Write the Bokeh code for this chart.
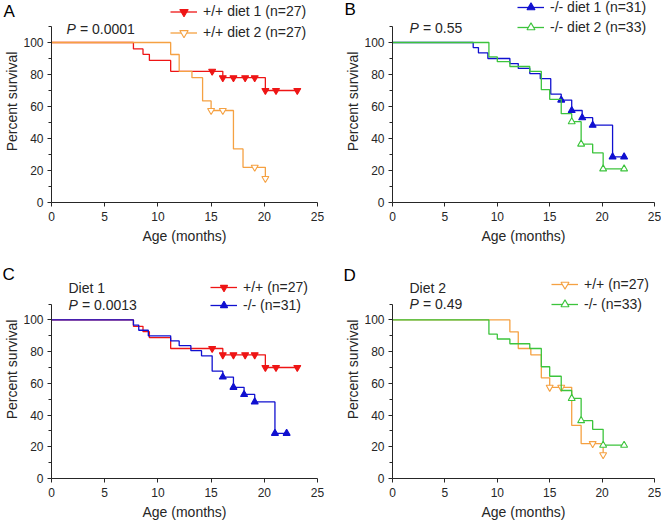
from bokeh.plotting import figure
from bokeh.layouts import gridplot
from bokeh.models import Range1d, FixedTicker, Label, Legend, LegendItem
from bokeh.embed import file_html
from bokeh.resources import INLINE

# ---- data ----
# +/+ diet 1
wt_d1_t = [0, 7.7, 8.6, 9.2, 11.2, 16.1, 20.1, 23.1]
wt_d1_s = [100, 96.0, 92.6, 88.8, 82.0, 78.0, 70.0, 70.0]
wt_d1_ct = [15.1, 16.1, 17.1, 18.2, 19.1, 20.1, 21.1, 23.1]
wt_d1_cs = [82.0, 78.0, 78.0, 78.0, 78.0, 70.0, 70.0, 70.0]
# +/+ diet 2
wt_d2_t = [0, 11.2, 12.0, 13.2, 14.2, 15.0, 17.1, 18.0, 20.1]
wt_d2_s = [100, 92.5, 82.0, 78.0, 63.5, 57.5, 33.5, 22.0, 15.0]
wt_d2_ct = [15.0, 16.1, 19.1, 20.1]
wt_d2_cs = [57.5, 57.5, 22.0, 15.0]
# -/- diet 1
ko_d1_t = [0, 7.7, 8.2, 9.1, 11.2, 12.0, 13.1, 14.1, 15.1, 16.1, 17.1, 18.1, 19.1, 21.0, 22.1]
ko_d1_s = [100, 96.8, 93.5, 90.0, 86.8, 83.8, 80.6, 77.4, 67.7, 64.0, 57.5, 53.0, 48.3, 28.5, 28.5]
ko_d1_ct = [16.1, 17.1, 18.1, 19.1, 21.0, 22.1]
ko_d1_cs = [64.0, 57.5, 53.0, 48.3, 28.5, 28.5]
# -/- diet 2
ko_d2_t = [0, 9.2, 10.0, 11.2, 13.1, 14.2, 15.0, 16.1, 17.1, 18.0, 19.1, 20.1, 22.1]
ko_d2_s = [100, 91.0, 88.0, 85.0, 82.0, 70.5, 64.5, 55.5, 50.5, 36.5, 31.0, 21.0, 21.0]
ko_d2_ct = [17.1, 18.0, 20.1, 22.1]
ko_d2_cs = [50.5, 36.5, 21.0, 21.0]

x_ticks = [0, 5, 10, 15, 20, 25]
y_ticks = [0, 20, 40, 60, 80, 100]
y_minor = [10, 30, 50, 70, 90, 110]
Y_MAX = 110

FONT = "Liberation Sans"
TXT = "#262626"

RED = "#ee1515"
ORANGE = "#f5a142"
BLUE = "#1010d0"
GREEN = "#3cc43c"

series = {
    "wt1": (wt_d1_t, wt_d1_s, wt_d1_ct, wt_d1_cs, RED, "inverted_triangle", RED),
    "wt2": (wt_d2_t, wt_d2_s, wt_d2_ct, wt_d2_cs, ORANGE, "inverted_triangle", "white"),
    "ko1": (ko_d1_t, ko_d1_s, ko_d1_ct, ko_d1_cs, BLUE, "triangle", BLUE),
    "ko2": (ko_d2_t, ko_d2_s, ko_d2_ct, ko_d2_cs, GREEN, "triangle", "white"),
}

AXIS_PX = 176  # pixel height of the 0..110 axis


def panel(letter, keys, labels, notes, p_text, w, h, bl, br, bt, bb,
          letter_side, letter_x, letter_dy, leg_x, leg_d, row_h, note_x, p_dy):
    T = AXIS_PX  # screen y (from frame bottom) of the axis top
    y_top = Y_MAX * (AXIS_PX + bt) / AXIS_PX
    p = figure(width=w, height=h, x_range=Range1d(0, 25), y_range=Range1d(0, y_top),
               output_backend="svg", toolbar_location=None,
               min_border_left=bl, min_border_right=br, min_border_top=0,
               min_border_bottom=bb)
    p.outline_line_color = None
    p.xgrid.visible = False
    p.ygrid.visible = False
    p.background_fill_color = "white"

    items = []
    for k, lab in zip(keys, labels):
        t, s, ct, cs, col, mk, fill = series[k]
        r1 = p.step(t, s, mode="after", line_color=col, line_width=1.3)
        r2 = p.scatter(ct, cs, marker=mk, size=7, line_color=col, fill_color=fill,
                       line_width=1.1)
        items.append(LegendItem(label=lab, renderers=[r1, r2]))

    for ax in (p.xaxis[0], p.yaxis[0]):
        ax.axis_line_color = TXT
        ax.major_tick_line_color = TXT
        ax.minor_tick_line_color = TXT
        ax.major_tick_in = 0
        ax.minor_tick_in = 0
        ax.major_tick_out = 4
        ax.minor_tick_out = 3
        ax.major_label_text_font = FONT
        ax.major_label_text_font_size = "12px"
        ax.major_label_text_color = TXT
        ax.axis_label_text_font = FONT
        ax.axis_label_text_font_size = "14px"
        ax.axis_label_text_font_style = "normal"
        ax.axis_label_text_color = TXT
    p.xaxis.ticker = FixedTicker(ticks=x_ticks, minor_ticks=[])
    p.yaxis.ticker = FixedTicker(ticks=y_ticks, minor_ticks=y_minor)
    p.yaxis.bounds = (0, Y_MAX)
    p.xaxis.axis_label = "Age (months)"
    p.yaxis.axis_label = "Percent survival"
    p.xaxis.major_label_standoff = 5
    p.xaxis.axis_label_standoff = 4
    p.yaxis.major_label_standoff = 4
    p.yaxis.axis_label_standoff = 0

    leg = Legend(items=items, location=(leg_x, T - 2 * row_h + row_h / 2 + leg_d),
                 glyph_width=27, glyph_height=row_h, label_height=row_h,
                 spacing=0, padding=0, margin=0, label_standoff=6,
                 background_fill_alpha=0, border_line_alpha=0,
                 label_text_font=FONT, label_text_font_size="14px",
                 label_text_color=TXT)
    p.add_layout(leg)

    # panel letter lives in a side panel (outside the frame, not clipped)
    p.add_layout(Label(x=letter_x, y=T + letter_dy, x_units="screen", y_units="screen",
                       text=letter, text_font=FONT, text_font_size="17px",
                       text_color="black", text_baseline="middle", text_align="left"),
                 letter_side)
    if notes:
        p.add_layout(Label(x=note_x, y=T + 15, x_units="screen", y_units="screen",
                           text=notes, text_font=FONT, text_font_size="14px",
                           text_color=TXT, text_baseline="middle", text_align="left"))
    p.add_layout(Label(x=note_x, y=T - p_dy, x_units="screen", y_units="screen",
                       text="P", text_font=FONT, text_font_size="14px",
                       text_font_style="italic",
                       text_color=TXT, text_baseline="middle", text_align="left"))
    p.add_layout(Label(x=note_x + 13.5, y=T - p_dy, x_units="screen", y_units="screen",
                       text="= " + p_text, text_font=FONT, text_font_size="14px",
                       text_color=TXT, text_baseline="middle", text_align="left"))
    return p


pA = panel("A", ["wt1", "wt2"], ["+/+ diet 1 (n=27)", "+/+ diet 2 (n=27)"], None, "0.0001",
           330, 260, 51, 13, 26, 58, "right", -314, 15, 119, 15, 21, 15, 2)
pB = panel("B", ["ko1", "ko2"], ["-/- diet 1 (n=31)", "-/- diet 2 (n=33)"], None, "0.55",
           331, 260, 59, 7, 26, 58, "left", 13, 17, 125, 19, 20, 17, 1)
pC = panel("C", ["wt1", "ko1"], ["+/+ (n=27)", "-/- (n=31)"], "Diet 1", "0.0013",
           330, 262, 51, 13, 44, 42, "right", -315, 28, 159, 15, 18, 17, 2)
pD = panel("D", ["wt2", "ko2"], ["+/+ (n=27)", "-/- (n=33)"], "Diet 2", "0.49",
           331, 262, 59, 7, 44, 42, "left", 13, 27, 159, 18, 20, 17, 1)

grid = gridplot([[pA, pB], [pC, pD]], toolbar_location=None)

open("out.html", "w").write(file_html(grid, INLINE))
